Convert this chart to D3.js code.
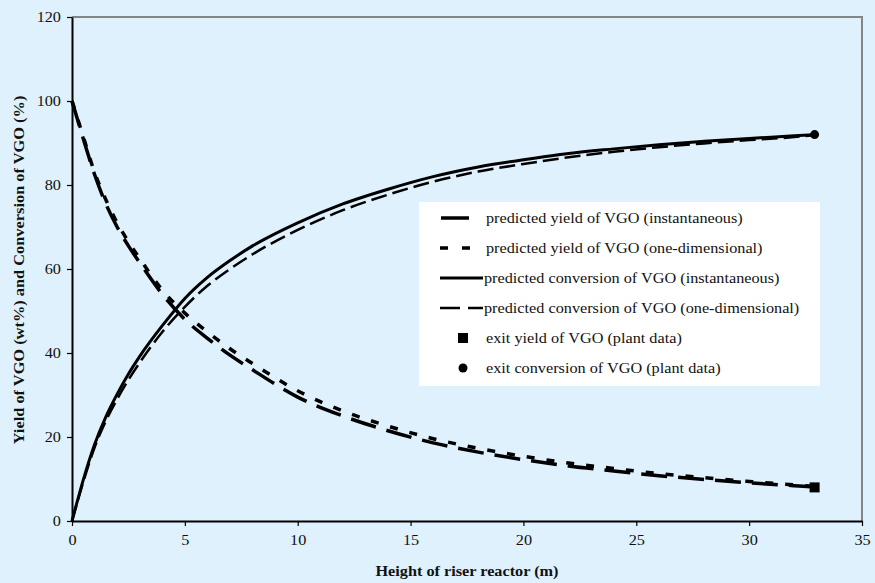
<!DOCTYPE html>
<html>
<head>
<meta charset="utf-8">
<script src="https://cdn.jsdelivr.net/npm/d3@7/dist/d3.min.js"></script>
<style>
  html, body { margin: 0; padding: 0; background: #dff1fc; }
  svg { display: block; }
  text { font-family: "Liberation Serif", "Times New Roman", serif; fill: #111; }
</style>
</head>
<body>
<svg id="chart" width="875" height="583"></svg>
<script>
// Riser height along the reactor (m)
const heightM = [0, 0.5, 1, 1.5, 2, 2.5, 3, 4, 5, 6, 7, 8, 10, 12, 14, 16, 18, 20, 22, 24, 26, 28, 30, 32, 32.9];

// VGO yield (wt%) and conversion (%) along the riser
const yieldInstant = [100, 91, 82.5, 75.5, 70, 65.5, 61.5, 54, 48, 43.5, 39.5, 36, 29.5, 25, 21.5, 18.6, 16.4, 14.6, 13.1, 11.9, 10.8, 9.9, 9.1, 8.4, 8.1];
const yieldOneDim = [100, 91.5, 83, 76.5, 71, 66.5, 62.5, 55, 49.5, 45, 41, 37.5, 31, 26.2, 22.6, 19.6, 17.3, 15.4, 13.8, 12.5, 11.3, 10.3, 9.4, 8.6, 8.2];
const convInstant = [0, 9.8, 18.2, 24.8, 30.2, 35, 39.2, 46.5, 53, 58, 62, 65.5, 71, 75.5, 79, 82, 84.3, 86, 87.5, 88.6, 89.6, 90.4, 91.1, 91.7, 92];
const convOneDim = [0, 9.3, 17.5, 23.8, 29, 33.6, 37.7, 45, 51, 56, 60, 63.5, 69.3, 74, 77.7, 80.8, 83.2, 85, 86.6, 87.9, 89, 89.9, 90.7, 91.4, 91.9];

// Plant measurements at the riser exit
const exitHeight = [32.9];
const exitYield = [8];
const exitConversion = [92];

// Axis ticks
const xTicks = [0, 5, 10, 15, 20, 25, 30, 35];
const yTicks = [0, 20, 40, 60, 80, 100, 120];

const legendLabels = [
  "predicted yield of VGO (instantaneous)",
  "predicted yield of VGO (one-dimensional)",
  "predicted conversion of VGO (instantaneous)",
  "predicted conversion of VGO (one-dimensional)",
  "exit yield of VGO (plant data)",
  "exit conversion of VGO (plant data)"
];

const svg = d3.select("#chart");
const plotLeft = 72, plotRight = 862, plotTop = 17, plotBottom = 521;
const FONT = 14, STRETCH = 1.16;   // horizontal text is drawn slightly widened

const x = d3.scaleLinear().domain([0, 35]).range([plotLeft, plotRight]);
const y = d3.scaleLinear().domain([0, 120]).range([plotBottom, plotTop]);

// plot frame: grey top/right edges
svg.append("path")
  .attr("d", `M${plotLeft},${plotTop}H${plotRight}V${plotBottom}`)
  .attr("fill", "none").attr("stroke", "#858585").attr("stroke-width", 2);

// axes
const xAxis = svg.append("g").attr("transform", `translate(0,${plotBottom})`)
  .call(d3.axisBottom(x).tickValues(xTicks).tickSize(5).tickPadding(9).tickSizeOuter(0));
const yAxis = svg.append("g").attr("transform", `translate(${plotLeft},0)`)
  .call(d3.axisLeft(y).tickValues(yTicks).tickSize(5).tickPadding(4.5).tickSizeOuter(0));
[xAxis, yAxis].forEach(g => {
  g.select(".domain").attr("stroke", "#000").attr("stroke-width", 2);
  g.selectAll(".tick line").attr("stroke", "#000").attr("stroke-width", 1.2);
  g.selectAll(".tick text")
    .attr("font-size", FONT).attr("font-family", "Liberation Serif").attr("fill", "#111")
    .attr("transform", `scale(${STRETCH},1)`);
});

// axis titles
svg.append("text")
  .attr("transform", `translate(${(plotLeft + plotRight) / 2},576) scale(${STRETCH},1)`)
  .attr("text-anchor", "middle").attr("font-size", FONT).attr("font-weight", "bold")
  .text("Height of riser reactor (m)");
svg.append("text")
  .attr("transform", `translate(24,270) rotate(-90) scale(1.17,1)`)
  .attr("text-anchor", "middle").attr("font-size", FONT).attr("font-weight", "bold")
  .text("Yield of VGO (wt%) and Conversion of VGO (%)");

// curves
const line = d3.line().x(d => x(d[0])).y(d => y(d[1])).curve(d3.curveMonotoneX);
const series = [
  { values: yieldOneDim, width: 3.5, dash: "8,12" },
  { values: yieldInstant, width: 3.5, dash: "26,11" },
  { values: convOneDim, width: 2.5, dash: "16,6" },
  { values: convInstant, width: 3, dash: null }
];
series.forEach(s => {
  svg.append("path")
    .datum(heightM.map((h, i) => [h, s.values[i]]))
    .attr("d", line)
    .attr("fill", "none").attr("stroke", "#000")
    .attr("stroke-width", s.width)
    .attr("stroke-dasharray", s.dash);
});

// plant data markers
svg.selectAll(".exit-yield").data(exitHeight).enter().append("rect")
  .attr("x", (d) => x(d) - 5).attr("y", (d, i) => y(exitYield[i]) - 5)
  .attr("width", 10).attr("height", 10).attr("fill", "#000");
svg.selectAll(".exit-conv").data(exitHeight).enter().append("circle")
  .attr("cx", d => x(d)).attr("cy", (d, i) => y(exitConversion[i]))
  .attr("r", 4.5).attr("fill", "#000");

// legend
const lg = svg.append("g");
lg.append("rect").attr("x", 419).attr("y", 202).attr("width", 401).attr("height", 184).attr("fill", "#fff");
const rowY = i => 218 + i * 30;
const samples = [
  { width: 3.5, dash: "28,20", x1: 441, x2: 482 },
  { width: 3.5, dash: "8,14", x1: 440, x2: 482 },
  { width: 3, dash: null, x1: 440, x2: 483 },
  { width: 2.5, dash: "20,8", x1: 440, x2: 483 }
];
samples.forEach((s, i) => {
  lg.append("line")
    .attr("x1", s.x1).attr("x2", s.x2).attr("y1", rowY(i)).attr("y2", rowY(i))
    .attr("stroke", "#000").attr("stroke-width", s.width).attr("stroke-dasharray", s.dash);
});
lg.append("rect").attr("x", 458).attr("y", rowY(4) - 5).attr("width", 10).attr("height", 10).attr("fill", "#000");
lg.append("circle").attr("cx", 463).attr("cy", rowY(5)).attr("r", 4.5).attr("fill", "#000");
legendLabels.forEach((t, i) => {
  const tx = (i === 2 || i === 3) ? 484 : 486;
  lg.append("text")
    .attr("transform", `translate(${tx},${rowY(i)}) scale(${STRETCH},1)`)
    .attr("dy", "0.35em")
    .attr("font-size", FONT).text(t);
});
</script>
</body>
</html>
